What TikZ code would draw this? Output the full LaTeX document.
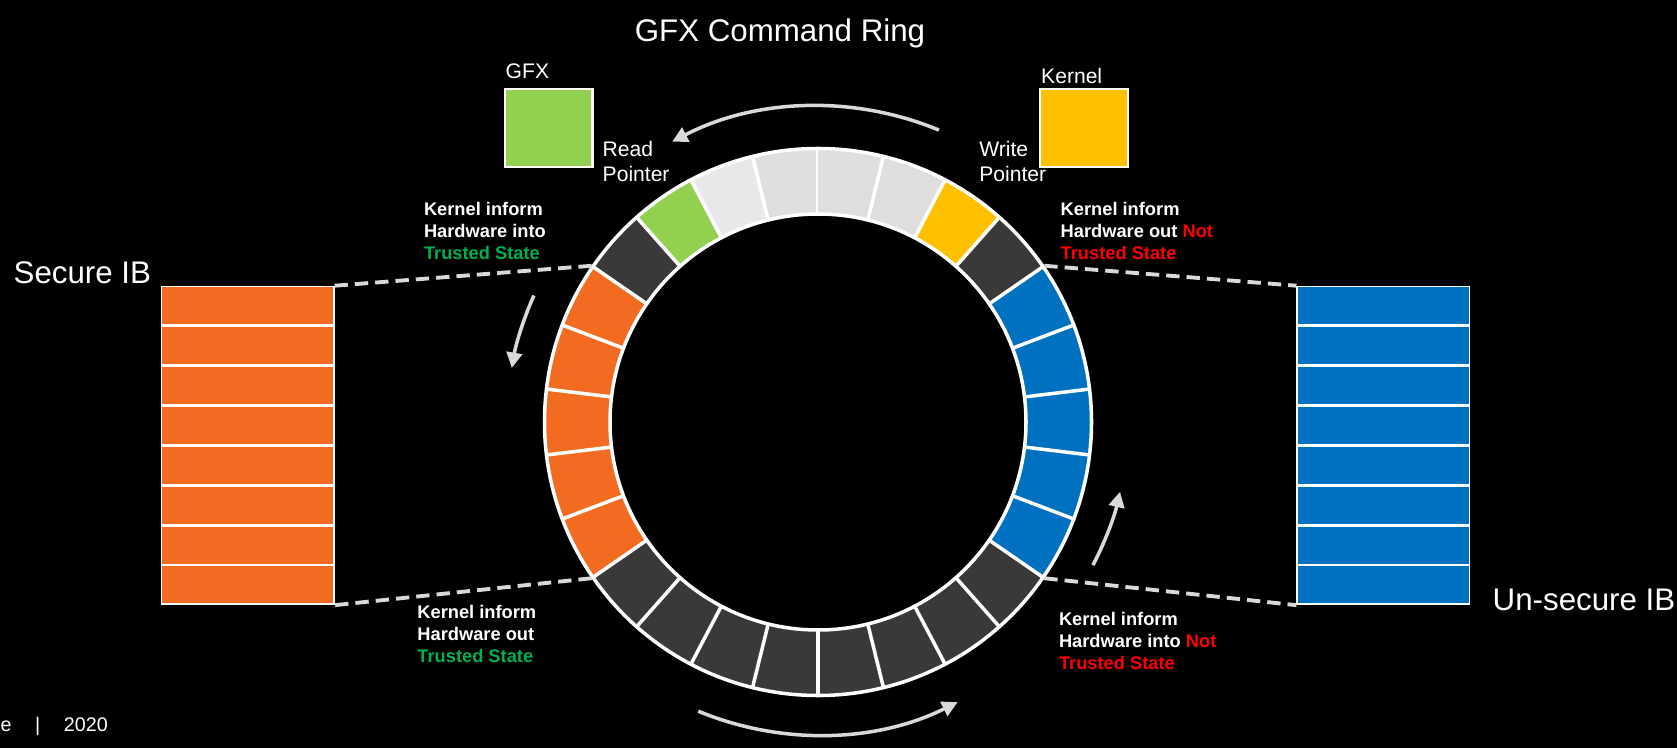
\documentclass[tikz,border=0pt]{standalone}
\usepackage{fontspec}
\setmainfont{Liberation Sans}
\usetikzlibrary{arrows.meta,calc}

\definecolor{ringgrey}{HTML}{DFDEDC}
\definecolor{ringlight}{HTML}{E8E8E8}
\definecolor{ringdark}{HTML}{3B3838}
\definecolor{gfxgreen}{HTML}{92D050}
\definecolor{kernelyellow}{HTML}{FFC000}
\definecolor{secureorange}{HTML}{F26B21}
\definecolor{unsecureblue}{HTML}{0070C0}
\definecolor{trustgreen}{HTML}{00B050}
\definecolor{nottrustred}{HTML}{FF0000}
\definecolor{arrowgrey}{HTML}{D9D9D9}

\tikzset{
    bigtext/.style={font=\fontsize{8.9}{10.7}\selectfont, text=white, inner sep=0pt},
    smalltext/.style={font=\fontsize{6}{7}\selectfont, text=white, inner sep=0pt, align=left},
    statetext/.style={font=\fontsize{5.2}{6.2}\selectfont\bfseries, text=white, inner sep=0pt, align=left},
    ptrbox/.style={draw=white, line width=0.6pt, minimum width=0.875cm, minimum height=0.78cm, inner sep=0pt},
    ibbox/.style={draw=white, line width=0.5pt, minimum width=1.722cm, minimum height=3.177cm, inner sep=0pt},
    ibrow/.style={white, line width=0.7pt},
    slotline/.style={white, line width=1pt},
    flowarrow/.style={arrowgrey, line width=1pt, -{Triangle[width=4.4pt,length=4.4pt]}},
    dashline/.style={arrowgrey, line width=1.1pt, dash pattern=on 3.8pt off 2pt},
}

\begin{document}
\begin{tikzpicture}
    \fill[black] (0,0) rectangle (16.77,-7.48);
    \useasboundingbox (0,0) rectangle (16.77,-7.48);

    \coordinate (ring) at (8.18,-4.22);

    \begin{scope}[shift={(ring)}]
        \foreach \c [count=\k from 0] in {ringgrey,ringlight,gfxgreen,ringdark,
            secureorange,secureorange,secureorange,secureorange,secureorange,
            ringdark,ringdark,ringdark,ringdark,ringdark,ringdark,ringdark,ringdark,
            unsecureblue,unsecureblue,unsecureblue,unsecureblue,unsecureblue,
            ringdark,kernelyellow,ringgrey,ringgrey}{
            \pgfmathsetmacro{\a}{90+\k*360/26}
            \pgfmathsetmacro{\b}{\a+360/26}
            \fill[\c] (\a:2.08) arc[start angle=\a, end angle=\b, radius=2.08]
                -- (\b:2.735) arc[start angle=\b, end angle=\a, radius=2.735] -- cycle;
            \draw[slotline] (\a:2.08) -- (\a:2.735);
        }
        \draw[slotline] (0,0) circle[radius=2.08];
        \draw[slotline] (0,0) circle[radius=2.735];

        \coordinate (intotrust)    at (145.38:2.75);
        \coordinate (outtrust)     at (214.62:2.75);
        \coordinate (outnottrust)  at (34.62:2.75);
        \coordinate (intonottrust) at (325.38:2.75);

        \draw[flowarrow] (67.5:3.16) arc[start angle=67.5, end angle=117.5, radius=3.16];
        \draw[flowarrow] (247.5:3.13) arc[start angle=247.5, end angle=296.5, radius=3.13];
        \draw[flowarrow] (156:3.11) arc[start angle=156, end angle=170, radius=3.11];
        \draw[flowarrow] (332.5:3.1) arc[start angle=332.5, end angle=347, radius=3.1];
    \end{scope}

    \node[ibbox, fill=secureorange] (secure) at (2.476,-4.4545) {};
    \node[ibbox, fill=unsecureblue] (unsecure) at (13.834,-4.4545) {};
    \foreach \i in {1,...,7}{
        \draw[ibrow] ($(secure.north west)!\i/8!(secure.south west)$) -- ($(secure.north east)!\i/8!(secure.south east)$);
        \draw[ibrow] ($(unsecure.north west)!\i/8!(unsecure.south west)$) -- ($(unsecure.north east)!\i/8!(unsecure.south east)$);
    }

    \draw[dashline] (intotrust) -- (secure.north east);
    \draw[dashline] (outtrust) -- (secure.south east);
    \draw[dashline] (outnottrust) -- (unsecure.north west);
    \draw[dashline] (intonottrust) -- (unsecure.south west);

    \node[bigtext, anchor=base] (title) at (7.80,-0.42) {GFX Command Ring};
    \node[bigtext, anchor=base west] (securelabel) at (0.13,-2.83) {Secure IB};
    \node[bigtext, anchor=base west] (unsecurelabel) at (14.92,-6.10) {Un-secure IB};

    \node[ptrbox, fill=gfxgreen] (gfx) at (5.487,-1.278) {};
    \node[smalltext, anchor=base west] (gfxlabel) at (5.05,-0.785) {GFX};
    \node[ptrbox, fill=kernelyellow] (kernel) at (10.84,-1.278) {};
    \node[smalltext, anchor=base west] (kernellabel) at (10.405,-0.835) {Kernel};
    \node[smalltext, anchor=north west] (readptr) at (6.02,-1.41) {Read\\Pointer};
    \node[smalltext, anchor=north west] (writeptr) at (9.786,-1.41) {Write\\Pointer};

    \node[statetext, anchor=north west] (stateA) at (4.233,-2.016)
        {Kernel inform\\Hardware into\\{\color{trustgreen}Trusted State}};
    \node[statetext, anchor=north west] (stateB) at (10.60,-2.016)
        {Kernel inform\\Hardware out {\color{nottrustred}Not}\\{\color{nottrustred}Trusted State}};
    \node[statetext, anchor=north west] (stateC) at (4.167,-6.049)
        {Kernel inform\\Hardware out\\{\color{trustgreen}Trusted State}};
    \node[statetext, anchor=north west] (stateD) at (10.583,-6.116)
        {Kernel inform\\Hardware into {\color{nottrustred}Not}\\{\color{nottrustred}Trusted State}};

    \node[font=\fontsize{5.6}{6.7}\selectfont, text=white, inner sep=0pt, anchor=base west] (footer)
        at (0,-7.31) {e\hspace{1.2em}|\hspace{1.2em}2020};
\end{tikzpicture}
\end{document}
